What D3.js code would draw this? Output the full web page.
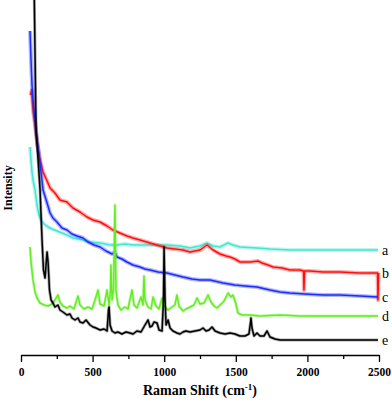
<!DOCTYPE html>
<html>
<head>
<meta charset="utf-8">
<script src="https://cdn.jsdelivr.net/npm/d3@7/dist/d3.min.js"></script>
<style>
  body { margin: 0; background: #fff; }
  svg { display: block; }
  .axis text { font-family: "Liberation Serif", "Times New Roman", serif; font-weight: bold; font-size: 11.5px; }
  .axis path, .axis line { stroke: #000; }
</style>
</head>
<body>
<div id="chart-area"></div>
<script>
const W = 392, H = 402;
const margin = { top: 0, right: 13, bottom: 47, left: 21 };
const width = W - margin.left - margin.right;
const height = H - margin.top - margin.bottom;

// spectra, [Raman shift cm-1, intensity a.u.]
const seriesNames = ["a", "b", "c", "d", "e"];
const seriesColors = ["#45e6d2", "#ff1010", "#1c2cff", "#62ee22", "#000000"];

const specA = [[63,208],[70,195],[77,183],[84,175],[98,165],[112,150],[126,140],[140,135],[161,131],[189,128],
  [216,126],[251,124],[286,122],[321,120],[363,117],[398,116],[433,115],[482,113],[552,112],[622,110],
  [670,110],[726,111],[782,110],[866,110],[936,110],[1020,110],[1110,109],[1180,107],[1250,109],[1299,112],
  [1341,109],[1390,108],[1446,112],[1480,110],[1529,108],[1648,107],[1739,106],[1878,105],[2088,105],
  [2297,105],[2493,105]];

const specB = [[66,260],[75,265],[84,245],[98,230],[112,213],[133,195],[154,183],[182,174],[203,167],[237,162],
  [272,155],[321,153],[363,147],[412,143],[461,138],[503,135],[552,133],[601,129],[642,125],[691,122],
  [740,119],[782,117],[831,115],[901,112],[971,109],[1020,107],[1075,106],[1131,105],[1180,103],[1250,105],
  [1299,110],[1341,105],[1390,101],[1432,99],[1460,98],[1494,96],[1529,93],[1599,93],[1655,94],[1683,92],
  [1725,90],[1760,88],[1823,87],[1878,85],[1948,85],[1973,84],[1976,65],[1980,84],[2018,84],[2109,83],
  [2228,83],[2367,82],[2490,82],[2493,55],[2497,82]];

const specC = [[63,324],[70,295],[77,270],[84,255],[98,235],[112,215],[133,192],[154,165],[182,152],[203,142],
  [223,137],[251,133],[286,127],[321,125],[356,121],[391,119],[433,117],[468,113],[510,110],[552,108],
  [594,104],[636,101],[656,103],[670,98],[705,96],[740,93],[782,90],[831,88],[866,86],[901,85],
  [957,83],[1020,82],[1075,80],[1131,78],[1194,76],[1250,75],[1320,75],[1411,72],[1494,70],[1564,69],
  [1648,68],[1739,65],[1809,63],[1878,62],[1983,61],[2109,60],[2228,60],[2367,59],[2493,58]];

const specD = [[63,108],[70,93],[84,75],[98,63],[112,57],[133,52],[161,50],[189,49],[216,51],[237,55],
  [258,60],[272,53],[293,49],[321,47],[342,49],[370,46],[398,59],[412,50],[440,46],[468,48],
  [496,46],[517,55],[538,65],[552,51],[580,49],[601,65],[615,50],[625,65],[628,90],[636,55],
  [646,65],[656,150],[663,65],[677,50],[698,45],[726,48],[747,46],[775,65],[789,50],[810,47],
  [838,58],[852,50],[859,79],[866,55],[887,48],[908,46],[922,58],[943,49],[964,46],[985,57],
  [999,49],[1027,45],[1054,48],[1075,50],[1089,60],[1103,49],[1131,44],[1152,46],[1180,48],[1208,50],
  [1229,57],[1250,51],[1278,52],[1306,60],[1327,53],[1348,49],[1369,47],[1390,50],[1418,54],[1446,62],
  [1466,58],[1480,60],[1501,51],[1515,42],[1543,40],[1599,40],[1669,39],[1809,40],[1948,39],[2158,39],
  [2367,39],[2493,39]];

const specE = [[93,355],[105,225],[115,205],[133,165],[147,115],[157,85],[168,77],[175,90],[182,103],[189,93],
  [199,65],[210,55],[223,52],[237,48],[258,50],[272,45],[293,43],[321,40],[342,41],[356,37],
  [377,35],[398,37],[412,33],[433,32],[454,35],[482,30],[503,28],[524,27],[552,25],[580,26],
  [601,24],[611,45],[615,48],[622,30],[636,24],[656,22],[677,23],[705,21],[733,23],[761,22],
  [782,21],[810,24],[838,23],[866,30],[887,35],[901,28],[915,29],[929,33],[950,32],[964,25],
  [985,24],[995,55],[999,108],[1006,55],[1013,30],[1027,35],[1041,27],[1061,24],[1089,22],[1110,21],
  [1131,23],[1152,24],[1180,23],[1215,24],[1250,25],[1271,27],[1292,24],[1313,25],[1334,28],[1355,24],
  [1390,22],[1425,21],[1460,22],[1494,21],[1529,19],[1564,19],[1592,21],[1603,33],[1606,37],[1613,27],
  [1627,19],[1648,22],[1669,19],[1697,19],[1718,24],[1739,18],[1774,16],[1809,15],[1948,15],[2158,15],
  [2367,15],[2493,15]];

const spectra = [specA, specB, specC, specD, specE];
const xTicks = [0, 500, 1000, 1500, 2000, 2500];
const xMinorTicks = [250, 750, 1250, 1750, 2250];

const svg = d3.select("#chart-area")
  .append("svg")
    .attr("width", W)
    .attr("height", H)
  .append("g")
    .attr("transform", `translate(${margin.left},${margin.top})`);

const xScale = d3.scaleLinear()
  .domain([0, 2500])
  .range([0, width]);

const yScale = d3.scaleLinear()
  .domain([0, 355])
  .range([height, 0]);

const line = d3.line()
  .x(d => xScale(d[0]))
  .y(d => yScale(d[1]));

svg.append("defs").append("clipPath")
  .attr("id", "clip")
  .append("rect")
    .attr("x", 0).attr("y", 0)
    .attr("width", width + 2).attr("height", height);

spectra.forEach((s, i) => {
  // soft band behind each trace, stands in for the detector noise
  svg.append("path")
    .datum(s)
    .attr("clip-path", "url(#clip)")
    .attr("fill", "none")
    .attr("stroke", seriesColors[i])
    .attr("stroke-opacity", 0.35)
    .attr("stroke-width", i < 3 ? 4 : 3)
    .attr("stroke-linejoin", "round")
    .attr("d", line);

  svg.append("path")
    .datum(s)
    .attr("clip-path", "url(#clip)")
    .attr("fill", "none")
    .attr("stroke", seriesColors[i])
    .attr("stroke-width", 1.5)
    .attr("stroke-linejoin", "round")
    .attr("d", line);

  const last = s[s.length - 1];
  svg.append("text")
    .attr("x", width + 3)
    .attr("y", yScale(i === 1 ? 82 : last[1]) + 5)
    .style("font-family", "'Liberation Serif', 'Times New Roman', serif")
    .style("font-size", "14px")
    .text(seriesNames[i]);
});

// minor ticks first, then labelled major axis
svg.append("g")
  .attr("class", "axis")
  .attr("transform", `translate(0,${height})`)
  .call(d3.axisBottom(xScale).tickValues(xMinorTicks).tickSize(4).tickFormat(""))
  .call(g => g.select(".domain").remove())
  .selectAll("line").attr("stroke-width", 1.3);

svg.append("g")
  .attr("class", "axis")
  .attr("transform", `translate(0,${height})`)
  .call(d3.axisBottom(xScale).tickValues(xTicks).tickSize(7).tickSizeOuter(0).tickPadding(6).tickFormat(d3.format("d")))
  .call(g => g.select(".domain").attr("stroke-width", 1.6))
  .call(g => g.selectAll("line").attr("stroke-width", 1.3));

svg.append("text")
  .attr("x", width / 2)
  .attr("y", height + 40)
  .style("text-anchor", "middle")
  .style("font-family", "'Liberation Serif', 'Times New Roman', serif")
  .style("font-weight", "bold")
  .style("font-size", "14px")
  .html("Raman Shift (cm<tspan dy='-5' font-size='9px'>-1</tspan><tspan dy='5'>)</tspan>");

svg.append("text")
  .attr("transform", "rotate(-90)")
  .attr("x", -188)
  .attr("y", -9)
  .style("text-anchor", "middle")
  .style("font-family", "'Liberation Serif', 'Times New Roman', serif")
  .style("font-weight", "bold")
  .style("font-size", "12px")
  .text("Intensity");
</script>
</body>
</html>
